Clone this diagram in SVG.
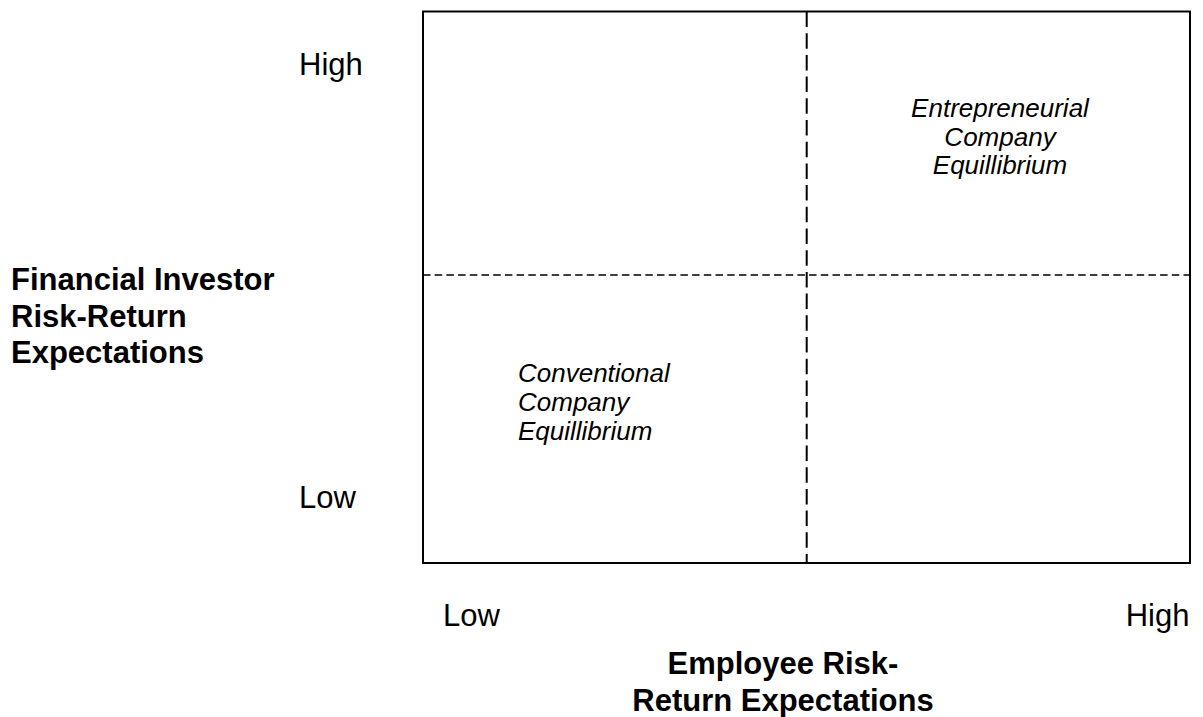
<svg xmlns="http://www.w3.org/2000/svg" width="1203" height="717" viewBox="0 0 1203 717">
  <style>
    text { font-family: "Liberation Sans", Arial, sans-serif; fill: #000; }
    .tick { font-size: 31px; }
    .axis { font-size: 31px; font-weight: bold; }
    .zone { font-size: 26px; font-style: italic; }
    .frame { fill: none; stroke: #000; stroke-width: 2; }
    .vdiv { stroke: #000; stroke-width: 2; stroke-dasharray: 15.5 6.2; fill: none; }
    .hdiv { stroke: #000; stroke-width: 1.6; stroke-dasharray: 7.5 4.2; fill: none; }
  </style>
  <rect width="1203" height="717" fill="#fff"/>
  <g id="connectors">
    <rect id="frame" class="frame" x="423" y="11.5" width="767" height="551.5"/>
    <line id="vertical-divider" class="vdiv" x1="806.7" y1="11.5" x2="806.7" y2="563"/>
    <line id="horizontal-divider" class="hdiv" x1="423" y1="275" x2="1190" y2="275"/>
  </g>
  <g id="y-axis-label">
    <text class="axis" x="11" y="290">Financial Investor</text>
    <text class="axis" x="11" y="326.7">Risk-Return</text>
    <text class="axis" x="11" y="363.3">Expectations</text>
  </g>
  <g id="y-high"><text class="tick" x="299" y="75">High</text></g>
  <g id="y-low"><text class="tick" x="299" y="508">Low</text></g>
  <g id="x-low"><text class="tick" x="443" y="625.5">Low</text></g>
  <g id="x-high"><text class="tick" x="1189.5" y="626" text-anchor="end">High</text></g>
  <g id="x-axis-label">
    <text class="axis" x="783" y="674" text-anchor="middle">Employee Risk-</text>
    <text class="axis" x="783" y="711" text-anchor="middle">Return Expectations</text>
  </g>
  <g id="entrepreneurial">
    <text class="zone" x="1000" y="117.3" text-anchor="middle">Entrepreneurial</text>
    <text class="zone" x="1000" y="145.7" text-anchor="middle">Company</text>
    <text class="zone" x="1000" y="174" text-anchor="middle">Equillibrium</text>
  </g>
  <g id="conventional">
    <text class="zone" x="518" y="381.7">Conventional</text>
    <text class="zone" x="518" y="410.7">Company</text>
    <text class="zone" x="518" y="440">Equillibrium</text>
  </g>
</svg>
